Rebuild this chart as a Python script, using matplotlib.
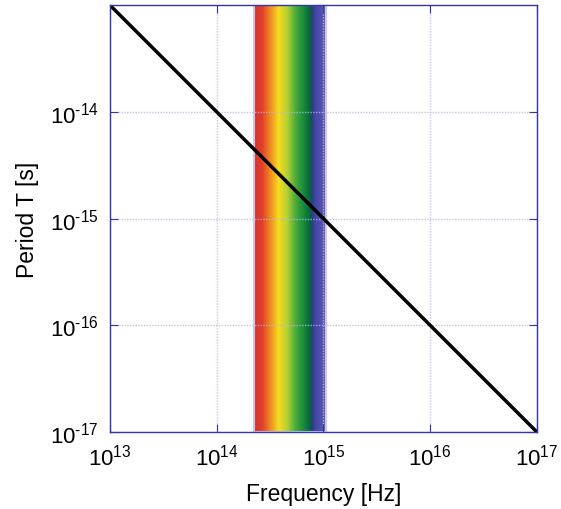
import numpy as np
from matplotlib import pyplot as plt
from matplotlib.colors import LinearSegmentedColormap
from matplotlib.ticker import NullLocator, FixedLocator

plt.rcParams['font.family'] = ['Liberation Sans', 'DejaVu Sans']
plt.rcParams['mathtext.fontset'] = 'custom'
plt.rcParams['mathtext.rm'] = 'Liberation Sans'
plt.rcParams['mathtext.it'] = 'Liberation Sans'

# data
freq = [1e13, 1e17]             # Hz
period = [1e-13, 1e-17]         # s, T = 1/f
band_freq = [2.25e14, 1.05e15]  # visible band edges, Hz
x_ticks = [1e13, 1e14, 1e15, 1e16, 1e17]
y_ticks = [1e-17, 1e-16, 1e-15, 1e-14]
x_labels = ['10$^{13}$', '10$^{14}$', '10$^{15}$', '10$^{16}$', '10$^{17}$']
y_labels = ['10$^{\u201017}$', '10$^{\u201016}$', '10$^{\u201015}$', '10$^{\u201014}$']

spectrum = LinearSegmentedColormap.from_list('spectrum', [
    (0.00, '#d8332a'),
    (0.11, '#e0402a'),
    (0.22, '#ee8a22'),
    (0.34, '#f6dc1c'),
    (0.46, '#b4d034'),
    (0.58, '#4aaa3a'),
    (0.70, '#128a3c'),
    (0.79, '#0a603c'),
    (0.82, '#2a3e88'),
    (0.86, '#4444a4'),
    (1.00, '#5a5ab4'),
])

fig = plt.figure(figsize=(5.61, 5.10), dpi=100)
ax = fig.add_axes([0.196, 0.151, 0.761, 0.837])
ax.set_xscale('log')
ax.set_yscale('log')
ax.set_xlim(1e13, 1e17)
ax.set_ylim(1e-17, 1e-13)

# gradient as thin vertical strips in data coords
edges = np.logspace(np.log10(band_freq[0]), np.log10(band_freq[1]), 121)
for i in range(len(edges) - 1):
    ax.axvspan(edges[i], edges[i + 1], color=spectrum(i / (len(edges) - 2)),
               lw=0, zorder=1)
ax.axvspan(band_freq[0], band_freq[1], fc='none', ec='#c8c8ec', lw=1.5, zorder=1)

ax.plot(freq, period, color='black', lw=2.5, zorder=3)

ax.xaxis.set_major_locator(FixedLocator(x_ticks))
ax.yaxis.set_major_locator(FixedLocator(y_ticks))
ax.xaxis.set_minor_locator(NullLocator())
ax.yaxis.set_minor_locator(NullLocator())
ax.set_xticklabels(x_labels)
ax.set_yticklabels(y_labels)
ax.tick_params(direction='in', length=6, width=0.8, color='#3333aa',
               labelsize=16, top=True, right=True)
ax.tick_params(axis='x', pad=8)
ax.tick_params(axis='y', pad=8)

ax.grid(True, color='#b8b8e0', lw=1, ls=(0, (1, 1)), alpha=0.8, zorder=2)
for s in ax.spines.values():
    s.set_color('#3333aa')
    s.set_linewidth(1)
    s.set_zorder(4)

ax.set_xlabel('Frequency [Hz]', fontsize=16.5, labelpad=9)
ax.set_ylabel('Period T [s]', fontsize=16.5, labelpad=8)

fig.savefig('out.png', dpi=100)
